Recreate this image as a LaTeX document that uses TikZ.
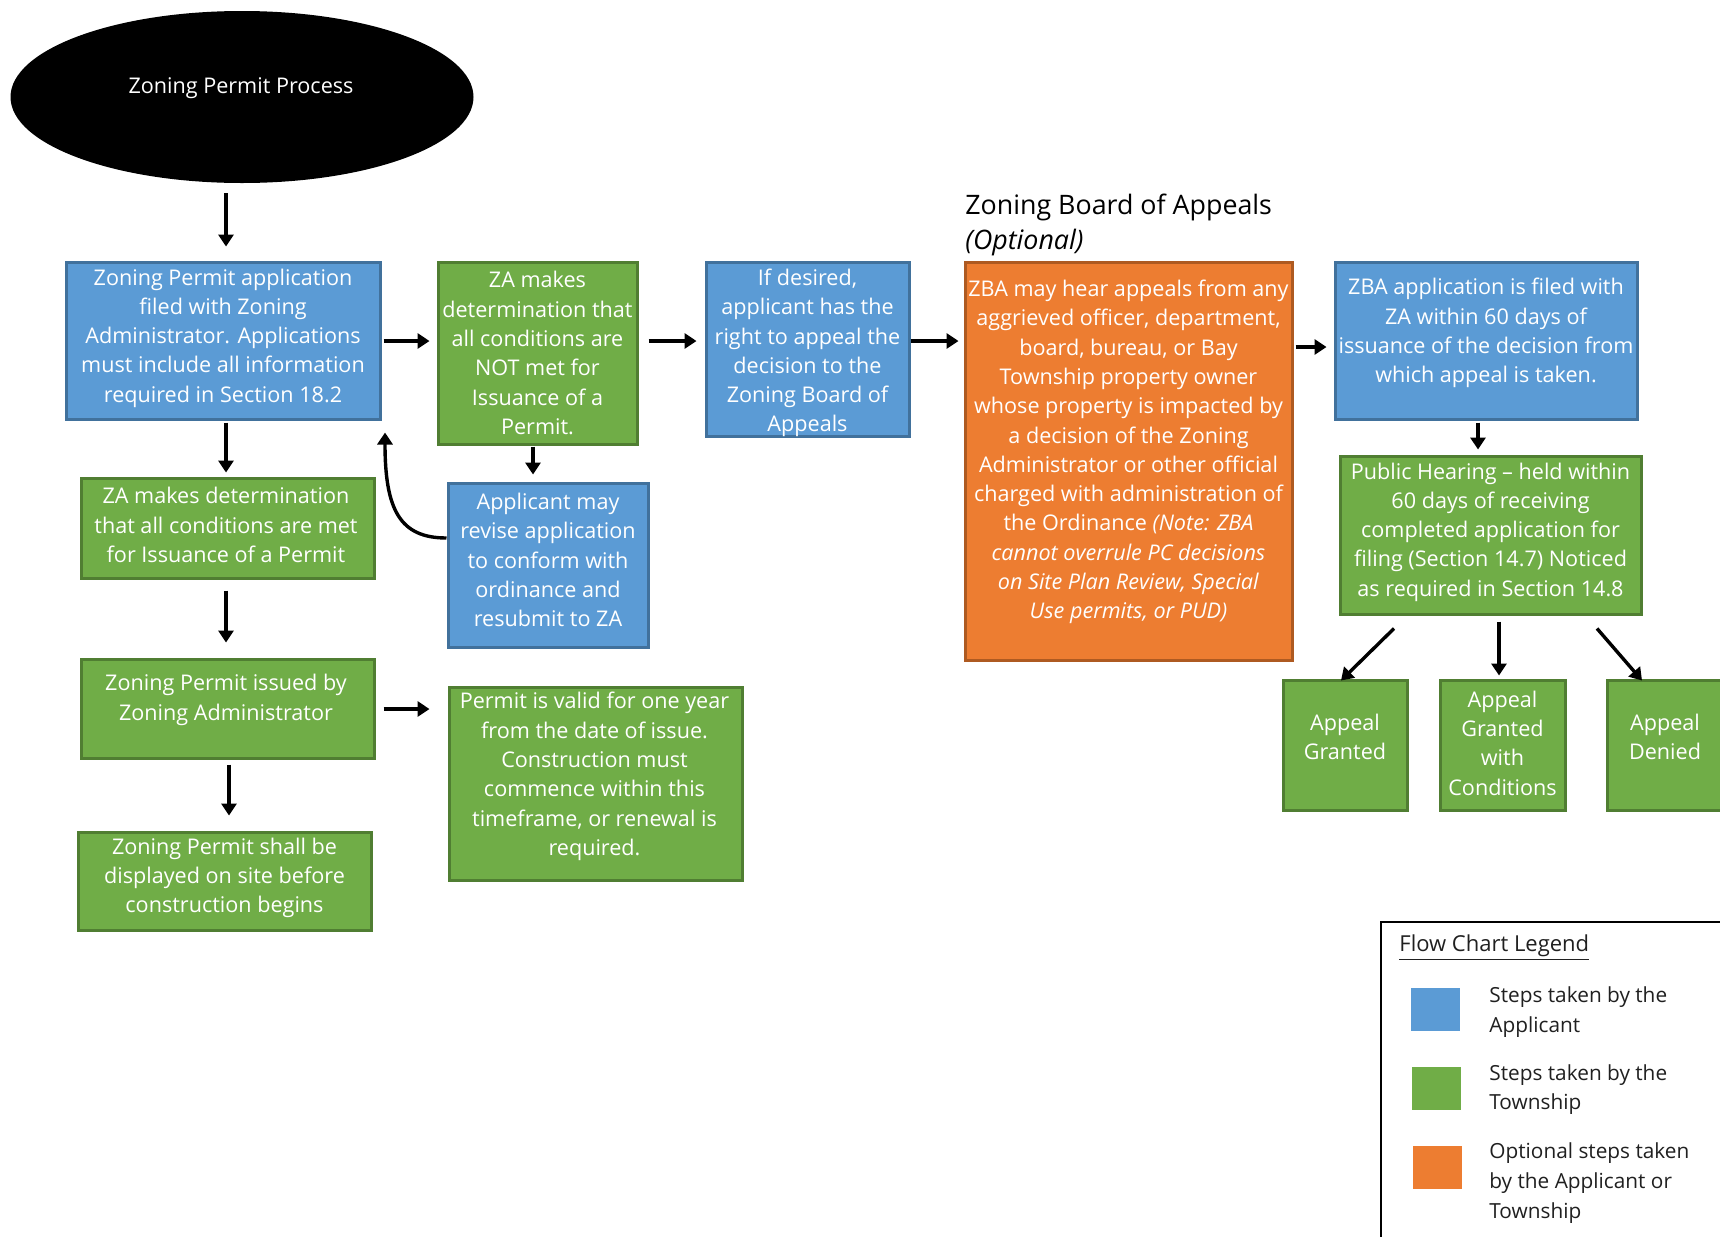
\documentclass[tikz,border=0pt]{standalone}
\usepackage{fontspec}
\setmainfont{Open Sans}
\usetikzlibrary{arrows.meta,calc,shapes.geometric}
\definecolor{bluef}{HTML}{5B9BD5}
\definecolor{blued}{HTML}{41719C}
\definecolor{greenf}{HTML}{70AD47}
\definecolor{greend}{HTML}{507E32}
\definecolor{orangef}{HTML}{ED7D31}
\definecolor{oranged}{HTML}{AE5A21}
\definecolor{legtext}{HTML}{202020}
\tikzset{
  box/.style={rectangle, line width=1.5pt, inner sep=0pt},
  bluebox/.style={box, fill=bluef, draw=blued},
  greenbox/.style={box, fill=greenf, draw=greend},
  orangebox/.style={box, fill=orangef, draw=oranged},
  txt/.style={text=white, align=center, inner sep=0pt, yshift=-1pt, font=\fontsize{10.8}{14.65}\selectfont},
  arr/.style={line width=1.7pt, -{Triangle[length=6pt,width=7.5pt]}},
  legtxt/.style={text=legtext, align=left, anchor=west, inner sep=0pt, yshift=-1pt, font=\fontsize{10.4}{14.8}\selectfont},
  legsq/.style={rectangle, inner sep=0pt, minimum width=24.5pt, minimum height=21.5pt}
}
\begin{document}
\begin{tikzpicture}[x=0.5pt,y=-0.5pt]
\useasboundingbox (0,0) rectangle (1720,1237);
\clip (0,0) rectangle (1720,1237);

% start ellipse
\node[ellipse, fill=black, minimum width=231.5pt, minimum height=86pt, inner sep=0pt] (ell) at (242,97) {};
\node[txt] (ellt) at ($(ell.center)+(-1,-11)$) {Zoning Permit Process};

% boxes
\node[bluebox, minimum width=157pt, minimum height=78.5pt] (A) at (223,340.5) {};
\node[txt] (At) at ($(A.center)+(0,-4.5)$) {Zoning Permit application\\filed with Zoning\\Administrator. Applications\\must include all information\\required in Section 18.2};

\node[greenbox, minimum width=99.5pt, minimum height=91pt] (B) at (537.5,353) {};
\node[txt] (Bt) at ($(B.center)+(0,-2)$) {ZA makes\\determination that\\all conditions are\\NOT met for\\Issuance of a\\Permit.};

\node[bluebox, minimum width=101.5pt, minimum height=87pt] (C) at (807.5,349) {};
\node[txt] (Ct) at ($(C.center)+(0,2)$) {If desired,\\applicant has the\\right to appeal the\\decision to the\\Zoning Board of\\Appeals};

\node[anchor=west, align=left, inner sep=0pt, yshift=-1pt, font=\fontsize{13.4}{17.5}\selectfont] (zbah) at (965,222.5) {Zoning Board of Appeals\\\itshape(Optional)};

\node[orangebox, minimum width=163.5pt, minimum height=199pt] (D) at (1128.5,461) {};
\node[txt] (Dt) at ($(D.center)+(0,-11)$) {ZBA may hear appeals from any\\aggrieved officer, department,\\board, bureau, or Bay\\Township property owner\\whose property is impacted by\\a decision of the Zoning\\Administrator or other official\\charged with administration of\\the Ordinance \textit{(Note: ZBA}\\\textit{cannot overrule PC decisions}\\\textit{on Site Plan Review, Special}\\\textit{Use permits, or PUD)}};

\node[bluebox, minimum width=151pt, minimum height=78.5pt] (E) at (1486,340.5) {};
\node[txt] (Et) at ($(E.center)+(0,-9.5)$) {ZBA application is filed with\\ZA within 60 days of\\issuance of the decision from\\which appeal is taken.};

\node[greenbox, minimum width=150.5pt, minimum height=79pt] (F) at (1490.5,535) {};
\node[txt] (Ft) at ($(F.center)+(0,-5)$) {Public Hearing – held within\\60 days of receiving\\completed application for\\filing (Section 14.7) Noticed\\as required in Section 14.8};

\node[greenbox, minimum width=62pt, minimum height=65pt] (G1) at (1345,745) {};
\node[txt] (G1t) at ($(G1.center)+(0,-10)$) {Appeal\\Granted};
\node[greenbox, minimum width=62.5pt, minimum height=65pt] (G2) at (1502.5,745) {};
\node[txt] (G2t) at ($(G2.center)+(0,-4)$) {Appeal\\Granted\\with\\Conditions};
\node[greenbox, minimum width=62pt, minimum height=65pt] (G3) at (1669,745) {};
\node[txt] (G3t) at ($(G3.center)+(-4,-10)$) {Appeal\\Denied};

\node[greenbox, minimum width=146.5pt, minimum height=50pt] (H) at (227.5,528) {};
\node[txt] (Ht) at ($(H.center)+(-1.5,-5)$) {ZA makes determination\\that all conditions are met\\for Issuance of a Permit};

\node[bluebox, minimum width=100pt, minimum height=82pt] (I) at (548,565) {};
\node[txt] (It) at ($(I.center)+(0,-7)$) {Applicant may\\revise application\\to conform with\\ordinance and\\resubmit to ZA};

\node[greenbox, minimum width=146.5pt, minimum height=49.5pt] (J) at (227.5,708.5) {};
\node[txt] (Jt) at ($(J.center)+(-1.5,-10.5)$) {Zoning Permit issued by\\Zoning Administrator};

\node[greenbox, minimum width=146.5pt, minimum height=96.5pt] (K) at (595.5,783.5) {};
\node[txt] (Kt) at ($(K.center)+(-1,-9)$) {Permit is valid for one year\\from the date of issue.\\Construction must\\commence within this\\timeframe, or renewal is\\required.};

\node[greenbox, minimum width=146.5pt, minimum height=49pt] (L) at (224.5,881) {};
\node[txt] (Lt) at ($(L.center)+(0,-5)$) {Zoning Permit shall be\\displayed on site before\\construction begins};

% connectors
\draw[arr] ($(226,0 |- ell.south)+(0,10)$) -- ($(226,0 |- A.north)+(0,-14)$);
\draw[arr] ($(A.east |- 0,341)+(2,0)$) -- ($(B.west |- 0,341)+(-7,0)$);
\draw[arr] ($(B.east |- 0,341)+(10,0)$) -- ($(C.west |- 0,341)+(-8,0)$);
\draw[arr] (C.east |- 0,341) -- ($(D.west |- 0,341)+(-5,0)$);
\draw[arr] ($(D.east |- 0,347)+(2,0)$) -- ($(E.west |- 0,347)+(-7,0)$);
\draw[arr] ($(1478,0 |- E.south)+(0,2)$) -- ($(1478,0 |- F.north)+(0,-5)$);
\draw[arr] ($(1394,0 |- F.south)+(0,13)$) -- ($(1341,0 |- G1.north)+(0,2)$);
\draw[arr] ($(1499,0 |- F.south)+(0,6)$) -- ($(1499,0 |- G2.north)+(0,-3)$);
\draw[arr] ($(1597,0 |- F.south)+(0,13)$) -- ($(1642,0 |- G3.north)+(0,2)$);
\draw[arr] ($(226,0 |- A.south)+(0,2)$) -- ($(226,0 |- H.north)+(0,-4)$);
\draw[arr] ($(533,0 |- B.south)+(0,1)$) -- ($(533,0 |- I.north)+(0,-7)$);
\draw[arr] (I.west |- 0,538) .. controls (400,538) and (385,510) .. ($(385,0 |- A.south)+(0,12)$);
\draw[arr] ($(226,0 |- H.south)+(0,11)$) -- ($(226,0 |- J.north)+(0,-15)$);
\draw[arr] ($(J.east |- 0,709)+(8,0)$) -- ($(K.west |- 0,709)+(-18,0)$);
\draw[arr] ($(229,0 |- J.south)+(0,5)$) -- ($(229,0 |- L.north)+(0,-15)$);

% legend
\node[draw=black, line width=1.2pt, anchor=north west, minimum width=190pt, minimum height=180pt, inner sep=0pt] (leg) at (1380,921) {};
\node[anchor=west, inner sep=0pt, yshift=-1pt, text=legtext, font=\fontsize{11}{14.8}\selectfont] (legt) at (1399,946) {\underline{Flow Chart Legend}};
\node[legsq, fill=bluef] (sq1) at (1435.5,1009.5) {};
\node[legsq, fill=greenf] (sq2) at (1436.5,1088.5) {};
\node[legsq, fill=orangef] (sq3) at (1437.5,1167.5) {};
\node[legtxt] (l1) at (1489,1010) {Steps taken by the\\Applicant};
\node[legtxt] (l2) at (1489,1087.5) {Steps taken by the\\Township};
\node[legtxt] (l3) at (1489,1181) {Optional steps taken\\by the Applicant or\\Township};
\end{tikzpicture}
\end{document}
